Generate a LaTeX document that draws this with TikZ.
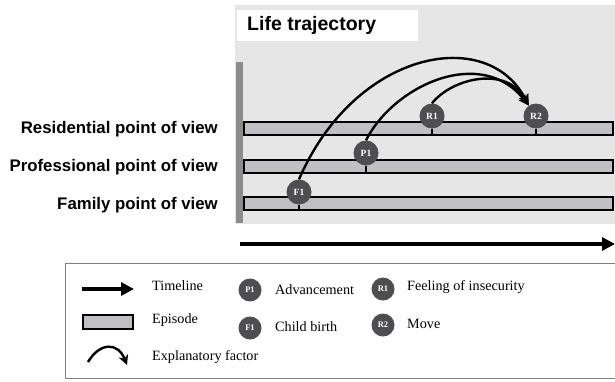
\documentclass[tikz,border=0pt]{standalone}
\usepackage{fontspec}
\setmainfont{Liberation Serif}
\newfontfamily\labfont{Liberation Sans}
\usetikzlibrary{arrows.meta}
\definecolor{panelbg}{RGB}{230,230,230}
\definecolor{barfill}{RGB}{192,192,196}
\definecolor{dotfill}{RGB}{78,78,80}
\definecolor{sidebar}{RGB}{140,140,140}
\definecolor{boxline}{RGB}{128,128,128}
\tikzset{
  x=1pt,y=-1pt,
  episode/.style={draw=black,fill=barfill,line width=1.3pt},
  event/.style={circle,fill=dotfill,minimum size=25pt,inner sep=0pt,text=white,font=\fontsize{9.5}{9.5}\selectfont\bfseries},
  legevent/.style={event,minimum size=23pt,font=\fontsize{8.5}{8.5}\selectfont\bfseries},
  stem/.style={line width=1.2pt},
  factor/.style={line width=2.4pt,-{Stealth[length=11pt,width=10pt]}},
  rowlab/.style={anchor=east,font=\labfont\fontsize{16.8}{17}\selectfont\bfseries,inner sep=0pt},
  legtext/.style={anchor=west,font=\fontsize{14.2}{15}\selectfont,inner sep=0pt},
}
\begin{document}
\begin{tikzpicture}
\useasboundingbox (0,0) rectangle (615,381);
% panel
\fill[panelbg] (235,5) rectangle (615,224);
\node[fill=white,minimum width=181pt,minimum height=31pt,anchor=north west,inner sep=0pt] (title) at (237,10) {};
\node[anchor=west,font=\labfont\fontsize{19.5}{20}\selectfont\bfseries,inner sep=0pt] (titletext) at (247,25) {Life trajectory};
\fill[sidebar] (236,62) rectangle (243,223);
% episodes
\draw[episode] (244,122) rectangle (613,135);
\draw[episode] (244,160) rectangle (613,173);
\draw[episode] (244,197) rectangle (613,210);
% row labels
\node[rowlab] (lres) at (218,129) {Residential point of view};
\node[rowlab] (lpro) at (218,167) {Professional point of view};
\node[rowlab] (lfam) at (218,205) {Family point of view};
% events
\coordinate (sR1) at (432,135);
\coordinate (sR2) at (536,135);
\coordinate (sP1) at (366,173);
\coordinate (sF1) at (299,210);
\node[event] (R1) at (432,116) {R1};
\node[event] (R2) at (536,116) {R2};
\node[event] (P1) at (366,153) {P1};
\node[event] (F1) at (299,192) {F1};
\draw[stem] (R1.south) -- (sR1);
\draw[stem] (R2.south) -- (sR2);
\draw[stem] (P1.south) -- (sP1);
\draw[stem] (F1.south) -- (sF1);
% explanatory arcs
\draw[factor] (F1.north) .. controls (355,50) and (488,25) .. (R2.125);
\draw[factor] (P1.north) .. controls (394,85) and (482,45) .. (R2.125);
\draw[factor] (R1.north) .. controls (452,78) and (507,65) .. (R2.125);
% timeline
\coordinate (tl0) at (240,244);
\coordinate (tl1) at (615,244);
\draw[line width=4pt,-{Triangle[length=13pt,width=13pt]}] (tl0) -- (tl1);
% legend
\draw[boxline,line width=1pt] (65,263) rectangle (616,378);
\coordinate (la0) at (82,289);
\coordinate (la1) at (134,289);
\draw[line width=4pt,-{Triangle[length=13pt,width=13pt]}] (la0) -- (la1);
\node[legtext] (tTimeline) at (152,286) {Timeline};
\draw[episode,line width=1.6pt] (83,315) rectangle (133,329);
\node[legtext] (tEpisode) at (152,320) {Episode};
\coordinate (lc0) at (88,362);
\coordinate (lc1) at (127,365);
\draw[line width=2.4pt,-{Stealth[length=10pt,width=10pt]}] (lc0) .. controls (100,342) and (118,342) .. (lc1);
\node[legtext] (tExpl) at (152,357) {Explanatory factor};
\node[legevent] (lP1) at (250,290) {P1};
\node[legtext] (tAdv) at (275,290) {Advancement};
\node[legevent] (lF1) at (250,328) {F1};
\node[legtext] (tChild) at (275,327) {Child birth};
\node[legevent] (lR1) at (383,289) {R1};
\node[legtext] (tFeel) at (407,287) {Feeling of insecurity};
\node[legevent] (lR2) at (383,325) {R2};
\node[legtext] (tMove) at (407,324) {Move};
\end{tikzpicture}
\end{document}
